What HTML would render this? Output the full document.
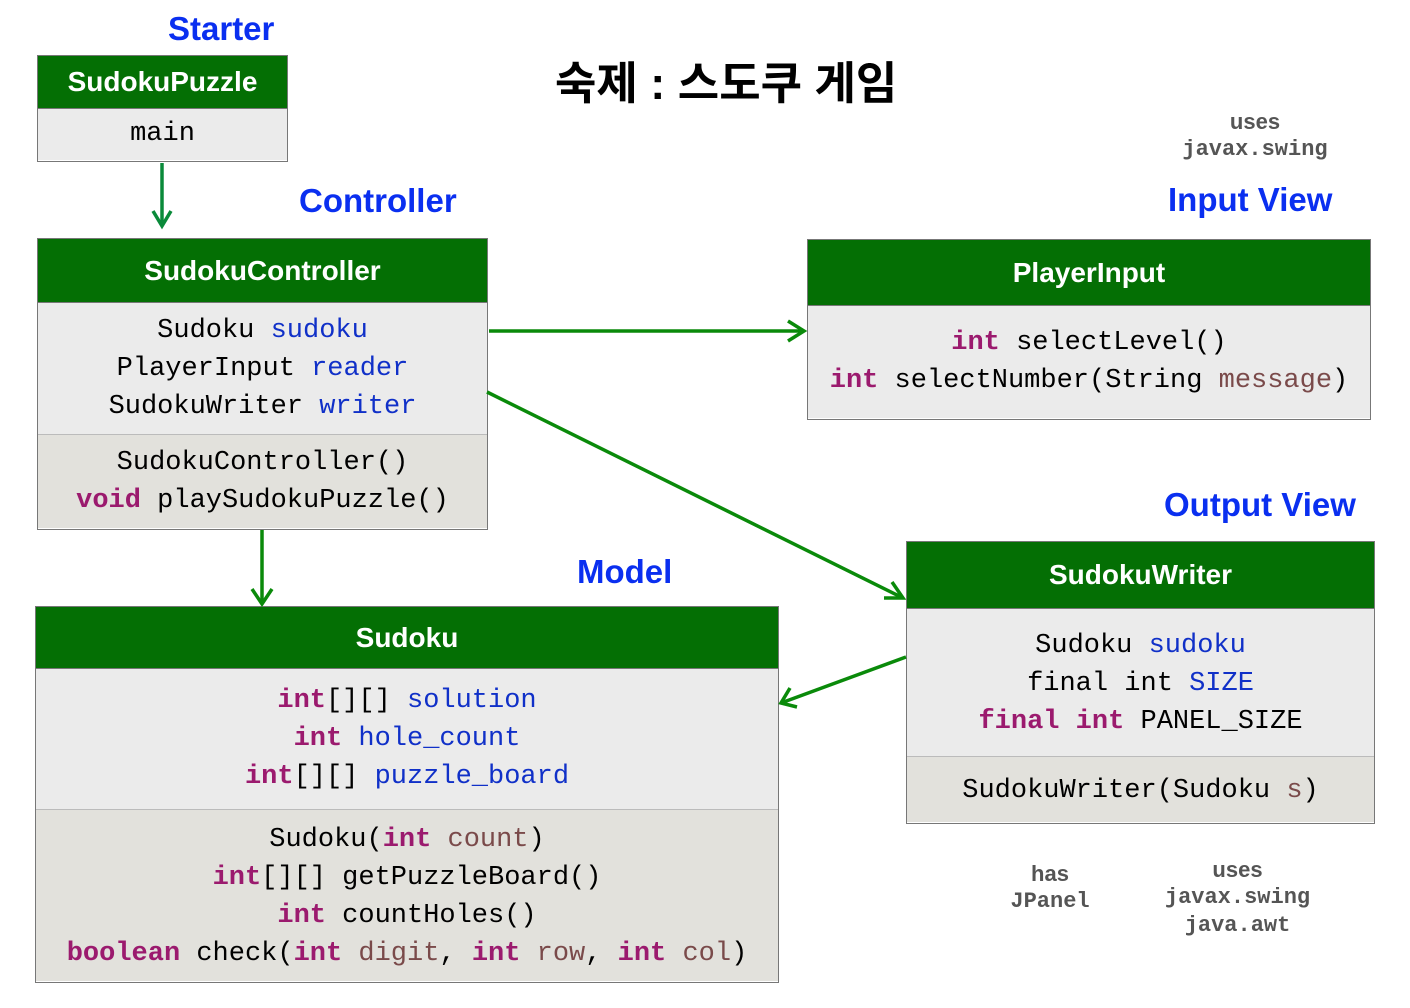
<!DOCTYPE html>
<html><head><meta charset="utf-8"><style>
body{margin:0;width:1410px;height:1008px;background:#fff;position:relative;overflow:hidden;font-family:"Liberation Sans",sans-serif}
.box{position:absolute;border:1.5px solid #777;box-sizing:border-box}
.h{background:#046f04;color:#fff;font-weight:bold;font-size:28px;display:flex;align-items:center;justify-content:center;border-bottom:1.5px solid #777;box-sizing:border-box}
.f{background:#ebebeb;font-family:"Liberation Mono",monospace;font-size:27px;line-height:38px;text-align:center;box-sizing:border-box;color:#000;white-space:pre}
.m{background:#e2e1dc;border-top:1.5px solid #bbb}
.k{color:#9b1a6e;font-weight:bold}.b{color:#1030c8}.p{color:#7a4a4a}
.lbl{position:absolute;color:#0a2ff0;font-weight:bold;font-size:33px}
.g{position:absolute;color:#555;font-weight:bold;font-size:22px;text-align:center;line-height:26px}
.g span{font-family:"Liberation Mono",monospace}
</style></head><body>
<div class="lbl" style="left:168px;top:10px">Starter</div>
<div class="lbl" style="left:299px;top:182px">Controller</div>
<div class="lbl" style="left:1168px;top:181px">Input View</div>
<div class="lbl" style="left:1164px;top:486px">Output View</div>
<div class="lbl" style="left:577px;top:553px">Model</div>
<div style="position:absolute;left:555px;top:47px;font-size:45px;font-weight:bold;font-family:'Liberation Sans','Noto Sans CJK KR',sans-serif">숙제 : 스도쿠 게임</div>
<div class="g" style="left:1165px;top:109px;width:180px">uses<br><span>javax.swing</span></div>
<div class="g" style="left:990px;top:861px;width:120px">has<br><span>JPanel</span></div>
<div class="g" style="left:1145px;top:857px;width:185px">uses<br><span>javax.swing<br>java.awt</span></div>

<div class="box" style="left:37px;top:55px;width:251px;height:107px">
<div class="h" style="height:53px">SudokuPuzzle</div>
<div class="f" style="height:51px;padding-top:6px">main</div></div>

<div class="box" style="left:37px;top:238px;width:451px;height:292px">
<div class="h" style="height:64px">SudokuController</div>
<div class="f" style="height:131px;padding-top:9px">Sudoku <span class="b">sudoku</span>
PlayerInput <span class="b">reader</span>
SudokuWriter <span class="b">writer</span></div>
<div class="f m" style="height:94px;padding-top:9px">SudokuController()
<span class="k">void</span> playSudokuPuzzle()</div></div>

<div class="box" style="left:807px;top:239px;width:564px;height:181px">
<div class="h" style="height:66px">PlayerInput</div>
<div class="f" style="height:112px;padding-top:18px"><span class="k">int</span> selectLevel()
<span class="k">int</span> selectNumber(String <span class="p">message</span>)</div></div>

<div class="box" style="left:906px;top:541px;width:469px;height:283px">
<div class="h" style="height:67px">SudokuWriter</div>
<div class="f" style="height:147px;padding-top:18px">Sudoku <span class="b">sudoku</span>
final int <span class="b">SIZE</span>
<span class="k">final int</span> PANEL_SIZE</div>
<div class="f m" style="height:66px;padding-top:15px">SudokuWriter(Sudoku <span class="p">s</span>)</div></div>

<div class="box" style="left:35px;top:606px;width:744px;height:377px">
<div class="h" style="height:62px">Sudoku</div>
<div class="f" style="height:140px;padding-top:13px"><span class="k">int</span>[][] <span class="b">solution</span>
<span class="k">int</span> <span class="b">hole_count</span>
<span class="k">int</span>[][] <span class="b">puzzle_board</span></div>
<div class="f m" style="height:172px;padding-top:11px">Sudoku(<span class="k">int</span> <span class="p">count</span>)
<span class="k">int</span>[][] getPuzzleBoard()
<span class="k">int</span> countHoles()
<span class="k">boolean</span> check(<span class="k">int</span> <span class="p">digit</span>, <span class="k">int</span> <span class="p">row</span>, <span class="k">int</span> <span class="p">col</span>)</div></div>

<svg width="1410" height="1008" style="position:absolute;left:0;top:0" fill="none" stroke-width="3.5">
<g stroke="#0a8a3a"><line x1="162" y1="163" x2="162" y2="226"/><polyline points="153,211 162,226 171,211"/></g>
<g stroke="#0a8a0a">
<line x1="489" y1="331" x2="804" y2="331"/><polyline points="788,321 804,331 788,341"/>
<line x1="487" y1="392" x2="903" y2="598"/><polyline points="884,598 903,598 892,582"/>
<line x1="262" y1="530" x2="262" y2="604"/><polyline points="252,589 262,604 272,589"/>
<line x1="906" y1="657" x2="781" y2="703"/><polyline points="790,688 781,703 797,707"/>
</g></svg>
</body></html>
